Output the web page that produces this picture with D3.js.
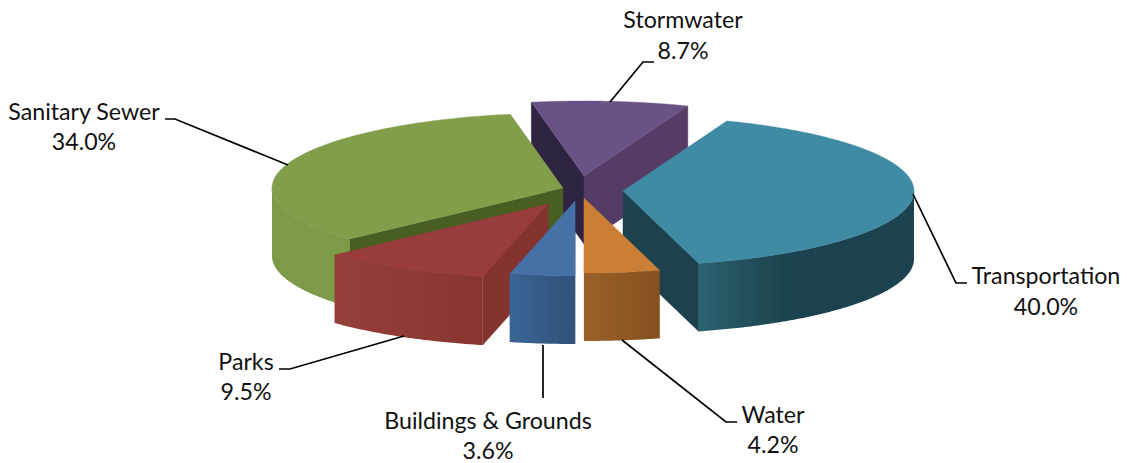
<!DOCTYPE html>
<html>
<head>
<meta charset="utf-8">
<script src="https://cdnjs.cloudflare.com/ajax/libs/d3/7.8.5/d3.min.js"></script>
<style>
html,body{margin:0;padding:0;background:#fff;}
svg{display:block;}
text{font-family:Lato,"Open Sans",sans-serif;font-size:23.2px;fill:#111;text-anchor:middle;}
</style>
</head>
<body>
<svg id="chart" width="1127" height="463"></svg>
<script>
// data (clockwise from the back-right edge of Transportation)
const categories = ["Transportation","Water","Buildings & Grounds","Parks","Sanitary Sewer","Stormwater"];
const shares = [40.0,4.2,3.6,9.5,34.0,8.7];

// look of the pie
const topColors = ["#3f8ba3","#cb7e36","#4571a6","#983d3c","#829e4b","#6a5284"];
const wallLight = ["#2a6271","#9a6129","#3a6595","#963f3c","#7c9a47","#553c66"];
const wallDark  = ["#1b424e","#85511f","#2f5278","#88352f","#7c9a47","#553c66"];
const cutStart  = ["#1b424e","#85511f","#2f5278","#84332f","#485e23","#2e2340"];
const cutEnd    = ["#1b424e","#85511f","#2f5278","#84332f","#485e23","#553c66"];
const apexX = [623,584,575,548,563,584];
const apexY = [191,198,201,204,188,176];
const drawOrder = [5,4,0,3,2,1];
const radiusX = 291, radiusY = 75, depth = 68;
const firstAngle = 20.9*Math.PI/180;

// label placement
const labelX = [1046,773,488,246,84,683];
const nameY  = [284,423,429,370,120,28];
const shareY = [315,453,459,400,150,59];
const leaders = [
  [[913,194],[956,283],[967,283]],
  [[622,340],[726,422],[737,422]],
  [[543,345],[543,398]],
  [[404,336],[290,369],[279,369]],
  [[288,165],[175,119],[165,119]],
  [[610,102],[643,62],[654,62]]
];

const svg = d3.select("#chart");
const defs = svg.append("defs");
const pie = d3.pie().sort(null).value(d=>d).startAngle(firstAngle).endAngle(firstAngle+2*Math.PI);
const arcs = pie(shares);
const sx = d3.scaleLinear().domain([-1,1]).range([-radiusX,radiusX]);
const sy = d3.scaleLinear().domain([-1,1]).range([-radiusY,radiusY]);
const rim = (i,a,dz=0)=>[apexX[i]+sx(Math.sin(a)), apexY[i]+sy(-Math.cos(a))+dz];
const sweep = (i,a0,a1,dz=0)=>{
  const n = Math.max(2,Math.ceil((a1-a0)/0.01));
  return d3.range(n+1).map(k=>rim(i,a0+(a1-a0)*k/n,dz));
};
const line = d3.line();
const g = svg.append("g");

drawOrder.forEach(i=>{
  const d = arcs[i], a0 = d.startAngle, a1 = d.endAngle;
  const apex = [apexX[i],apexY[i]], low = [apexX[i],apexY[i]+depth];
  const s = g.append("g");
  // cut faces
  const quad = (a,c)=>s.append("path")
    .attr("d",line([apex,rim(i,a),rim(i,a,depth),low])+"Z").attr("fill",c).attr("stroke",c).attr("stroke-width",.5);
  if(Math.sin(a0)<0) quad(a0,cutStart[i]);
  if(Math.sin(a1)>0) quad(a1,cutEnd[i]);
  // outer wall
  const w0 = Math.max(a0,Math.PI/2), w1 = Math.min(a1,3*Math.PI/2);
  if(w1>w0){
    const front = sweep(i,w0,w1), back = sweep(i,w0,w1,depth).reverse();
    const xs = front.map(p=>p[0]);
    const xMin = d3.min(xs), xMax = d3.max(xs);
    const id = "wall"+i;
    const grad = defs.append("linearGradient").attr("id",id)
      .attr("gradientUnits","userSpaceOnUse").attr("x1",xMin).attr("x2",xMax).attr("y1",0).attr("y2",0);
    // Transportation brightens at its left end, the others shade across the wall
    const stops = i===0 ? [[0,wallLight[i]],[.18,"#245460"],[.42,wallDark[i]],[1,wallDark[i]]]
                        : [[0,wallLight[i]],[1,wallDark[i]]];
    stops.forEach(t=>grad.append("stop").attr("offset",t[0]).attr("stop-color",t[1]));
    s.append("path").attr("d",line(front.concat(back))+"Z").attr("fill",`url(#${id})`);
    s.append("path").attr("d",line(front)).attr("fill","none")
      .attr("stroke",d3.color(wallDark[i]).darker(.5)).attr("stroke-width",.7).attr("stroke-opacity",.6);
  }
  // top face
  s.append("path").attr("d",line([apex].concat(sweep(i,a0,a1)))+"Z")
    .attr("fill",topColors[i]).attr("stroke",topColors[i]).attr("stroke-width",.4);
});

// leaders and labels
const labels = svg.append("g");
categories.forEach((c,i)=>{
  labels.append("path").attr("d",line(leaders[i])).attr("fill","none")
    .attr("stroke","#000").attr("stroke-width",1.7);
  labels.append("text").attr("x",labelX[i]).attr("y",nameY[i]).text(c);
  labels.append("text").attr("x",labelX[i]).attr("y",shareY[i]).text(d3.format(".1f")(shares[i])+"%");
});
</script>
</body>
</html>
